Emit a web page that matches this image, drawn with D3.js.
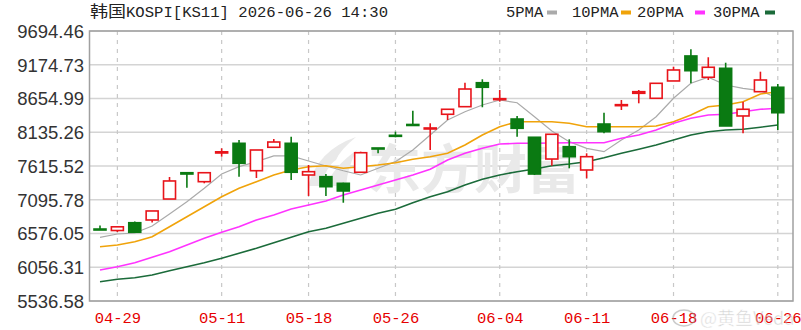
<!DOCTYPE html>
<html>
<head>
<meta charset="utf-8">
<script src="https://cdn.jsdelivr.net/npm/d3@7"></script>
<style>
  body { margin: 0; background: #fff; }
  svg { display: block; }
</style>
</head>
<body>
<script>
const width = 801;
const height = 330;
const plot = { left: 89.5, right: 793, top: 31, bottom: 301 };

const dates = ["04-28","04-29","04-30","05-04","05-06","05-07","05-08","05-11","05-12","05-13",
  "05-14","05-15","05-18","05-19","05-20","05-21","05-22","05-26","05-27","05-28",
  "05-29","06-01","06-02","06-04","06-05","06-08","06-09","06-10","06-11","06-12",
  "06-15","06-16","06-17","06-18","06-19","06-22","06-23","06-24","06-25","06-26"];
const xTickLabels = ["04-29","05-11","05-18","05-26","06-04","06-11","06-18","06-26"];
const yTickValues = [5536.58, 6056.31, 6576.05, 7095.78, 7615.52, 8135.26, 8654.99, 9174.73, 9694.46];

const open  = [6645,6622,6742,6784,7107,7512,7374,7816,7965,7543,7904,7965,7477,7451,7349,7519,7893,8088,8255,8190,
  8412,8529,8898,8643,8339,8058,7723,7913,7554,8262,8547,8735,8658,8925,9310,8982,9120,8386,8760,8828];
const high  = [6699,6692,6761,6923,7446,7512,7512,7888,8016,7862,8031,8067,7631,7492,7358,7836,7893,8144,8467,8273,
  8489,8898,8951,8786,8386,8058,8104,8027,7811,8436,8632,8786,8889,9145,9413,9290,9206,8606,9068,8878];
const low   = [6636,6599,6595,6745,7107,7281,7349,7759,7451,7431,7904,7400,7154,7154,7050,7519,7811,8058,8242,7862,
  8324,8529,8520,8606,8067,7477,7620,7580,7426,8119,8478,8581,8658,8925,8889,8940,8232,8119,8760,8170];
const close = [6636,6679,6595,6923,7385,7492,7512,7834,7657,7862,7985,7519,7528,7297,7231,7820,7877,8078,8242,8201,
  8489,8801,8828,8652,8196,7492,8104,7759,7759,8144,8560,8760,8889,9094,9083,9136,8232,8489,8940,8436];

const ma5  = [6517,6568,6584,6692,6876,7066,7272,7492,7605,7682,7770,7770,7693,7616,7543,7477,7580,7682,7862,8093,
  8324,8452,8555,8632,8590,8375,8155,7990,7888,7836,8016,8170,8375,8658,8889,8982,8863,8812,8775,8658];
const ma10 = [6373,6399,6450,6527,6681,6835,6989,7143,7272,7374,7477,7554,7605,7620,7580,7605,7631,7666,7719,7759,
  7811,7939,8093,8221,8298,8298,8298,8273,8221,8221,8221,8221,8232,8298,8401,8529,8555,8606,8724,8760];
const ma20 = [6014,6065,6126,6210,6296,6399,6502,6595,6681,6784,6861,6953,7015,7077,7169,7246,7323,7400,7477,7565,
  7708,7811,7888,7954,7965,7965,7970,7974,7974,7974,8042,8093,8170,8273,8350,8401,8412,8452,8489,8504];
const ma30 = [5834,5871,5895,5937,6003,6065,6126,6194,6271,6348,6434,6517,6604,6656,6733,6810,6887,6949,7050,7143,
  7220,7323,7411,7477,7528,7569,7620,7646,7682,7743,7811,7873,7939,8016,8093,8144,8170,8181,8212,8247];

const maNames = ["5PMA", "10PMA", "20PMA", "30PMA"];
const maColors = ["#aaaaaa", "#f0a30a", "#ff33ff", "#1b6b3a"];
const maSeries = [ma5, ma10, ma20, ma30];

const upColor = "#e8141a";
const downColor = "#0a7a12";
const monoFont = "'Liberation Mono', 'DejaVu Sans Mono', monospace";

const svg = d3.select("body").append("svg").attr("width", width).attr("height", height);

const xScale = d3.scalePoint().domain(dates).range([100, 777.8]);
const yScale = d3.scaleLinear().domain([5536.58, 9694.46]).range([plot.bottom, plot.top]);

// gridlines
svg.append("g")
  .selectAll("line")
  .data(yTickValues)
  .enter()
  .append("line")
  .attr("x1", plot.left)
  .attr("x2", plot.right)
  .attr("y1", (d) => yScale(d))
  .attr("y2", (d) => yScale(d))
  .attr("stroke", "#d4d4d4")
  .attr("stroke-width", 1.5);

svg.append("g")
  .selectAll("line")
  .data(xTickLabels)
  .enter()
  .append("line")
  .attr("x1", (d) => xScale(d))
  .attr("x2", (d) => xScale(d))
  .attr("y1", plot.top)
  .attr("y2", plot.bottom)
  .attr("stroke", "#c8c8c8")
  .attr("stroke-width", 1.2)
  .attr("stroke-dasharray", "4,5");

// watermark
svg.append("text")
  .text("东方财富")
  .attr("x", 474)
  .attr("y", 189)
  .attr("text-anchor", "middle")
  .attr("font-family", "'Noto Sans CJK SC'")
  .attr("font-weight", "bold")
  .attr("font-size", 53)
  .attr("fill", "#e9e9e9");
svg.append("path")
  .attr("d", "M308,186 Q318,150 356,137 Q340,150 336,160 Q326,166 322,186 Z M326,186 Q334,166 357,150 Q348,165 346,186 Z")
  .attr("fill", "#e9e9e9");

// axes
const yAxis = d3.axisLeft(yScale).tickValues(yTickValues).tickFormat(d3.format(".2f")).tickSize(0);
svg.append("g")
  .attr("transform", `translate(84, 0)`)
  .call(yAxis)
  .call((g) => g.select(".domain").remove())
  .selectAll("text")
  .attr("x", 0)
  .attr("dy", "0.35em")
  .style("font-family", "'Liberation Sans', Arial, sans-serif")
  .style("font-size", "18.5px")
  .style("fill", "#333");

const xAxis = d3.axisBottom(xScale).tickValues(xTickLabels).tickSize(0);
svg.append("g")
  .attr("transform", `translate(0, ${plot.bottom})`)
  .call(xAxis)
  .call((g) => g.select(".domain").remove())
  .selectAll("text")
  .attr("y", 17)
  .attr("dy", "0.35em")
  .style("font-family", monoFont)
  .style("font-size", "15.5px")
  .style("fill", "#e60000");

// moving averages
const line = d3.line().x((d, i) => xScale(dates[i])).y((d) => yScale(d));
svg.append("g")
  .selectAll("path")
  .data(maSeries)
  .enter()
  .append("path")
  .attr("d", (d) => line(d))
  .attr("fill", "none")
  .attr("stroke", (d, i) => maColors[i])
  .attr("stroke-width", (d, i) => (i === 0 ? 1.2 : 1.6));

// candles
const candles = dates.map((d, i) => ({
  date: d, o: open[i], h: high[i], l: low[i], c: close[i]
}));
const bodyW = 12;
const cg = svg.append("g")
  .selectAll("g")
  .data(candles)
  .enter()
  .append("g");

cg.append("line")
  .attr("x1", (d) => xScale(d.date))
  .attr("x2", (d) => xScale(d.date))
  .attr("y1", (d) => yScale(d.h))
  .attr("y2", (d) => yScale(d.l))
  .attr("stroke", (d) => (d.c >= d.o ? upColor : downColor))
  .attr("stroke-width", 1.6);

cg.append("rect")
  .attr("x", (d) => xScale(d.date) - bodyW / 2)
  .attr("y", (d) => yScale(Math.max(d.o, d.c)))
  .attr("width", bodyW)
  .attr("height", (d) => Math.max(1, Math.abs(yScale(d.o) - yScale(d.c))))
  .attr("fill", (d) => (d.c >= d.o ? "#fff" : downColor))
  .attr("stroke", (d) => (d.c >= d.o ? upColor : downColor))
  .attr("stroke-width", 1.6);

// frame
svg.append("rect")
  .attr("x", plot.left)
  .attr("y", plot.top)
  .attr("width", plot.right - plot.left)
  .attr("height", plot.bottom - plot.top)
  .attr("fill", "none")
  .attr("stroke", "#a0a0a0")
  .attr("stroke-width", 1.5);

// title
const title = svg.append("text")
  .attr("x", 90)
  .attr("y", 17)
  .style("font-size", "15.5px")
  .style("fill", "#222");
title.append("tspan")
  .text("韩国")
  .style("font-family", "'Noto Sans CJK SC'")
  .attr("textLength", 36)
  .attr("lengthAdjust", "spacingAndGlyphs");
title.append("tspan")
  .text("KOSPI[KS11] 2026-06-26 14:30")
  .style("font-family", monoFont)
  .attr("textLength", 262)
  .attr("lengthAdjust", "spacingAndGlyphs");

// legend
const legendX = [506, 572, 637, 713];
const legendSwatchX = [547, 621, 695, 765];
const legend = svg.append("g")
  .selectAll("g")
  .data(maNames)
  .enter()
  .append("g");
legend.append("text")
  .text((d) => d)
  .attr("x", (d, i) => legendX[i])
  .attr("y", 17)
  .style("font-family", monoFont)
  .style("font-size", "15px")
  .attr("textLength", (d) => d.length * 9.3)
  .attr("lengthAdjust", "spacingAndGlyphs")
  .style("fill", "#222");
legend.append("rect")
  .attr("x", (d, i) => legendSwatchX[i])
  .attr("y", 10.5)
  .attr("width", 10)
  .attr("height", 4)
  .attr("fill", (d, i) => maColors[i]);

// weibo watermark
const wm = svg.append("g").attr("opacity", 0.5);
wm.append("ellipse")
  .attr("cx", 684)
  .attr("cy", 318)
  .attr("rx", 11)
  .attr("ry", 8)
  .attr("fill", "none")
  .attr("stroke", "#999")
  .attr("stroke-width", 1.5);
wm.append("text")
  .text("@黄鱼Veda")
  .attr("x", 700)
  .attr("y", 325)
  .style("font-family", "'Noto Sans CJK SC'")
  .style("font-size", "18px")
  .style("fill", "#aaa")
  .style("stroke", "#fff")
  .style("stroke-width", 0.5);
</script>
</body>
</html>
